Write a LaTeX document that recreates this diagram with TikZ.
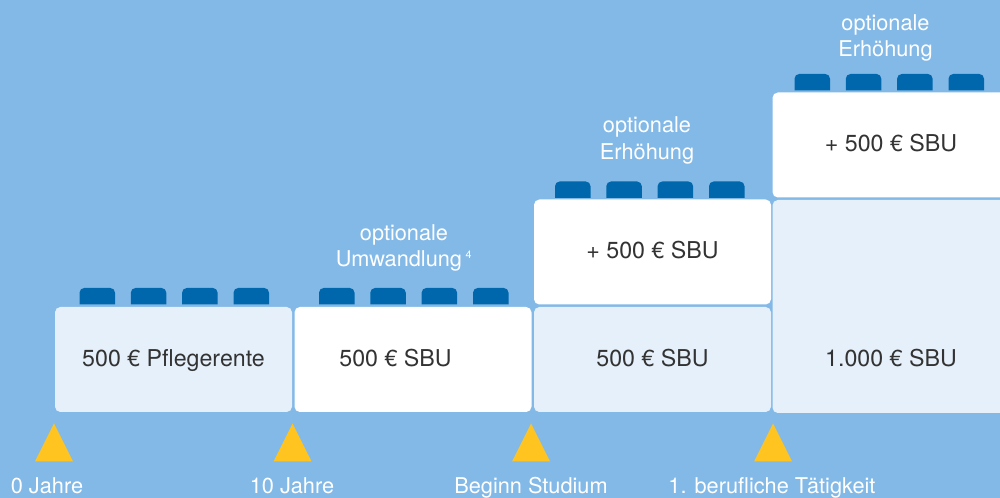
\documentclass[tikz,border=0pt]{standalone}
\usepackage{fontspec}
\setmainfont{TeX Gyre Heros}
\definecolor{skyblue}{HTML}{83B9E7}
\definecolor{paleblue}{HTML}{E5F0FA}
\definecolor{studblue}{HTML}{0067AC}
\definecolor{markyellow}{HTML}{FFC41F}
\definecolor{darktext}{HTML}{333333}
\newcommand{\studrow}[1]{%
	\foreach \s in {0,51.3,102.6,154} {
		\fill [studblue, xshift=(#1+\s)*0.75pt] (0,16.5) [rounded corners=3.5pt] -- (0,0) -- (35.5,0) [sharp corners] -- (35.5,16.5) -- cycle;
	}
}
\tikzset{
	blocktext/.style={text=darktext, inner sep=0pt, text height=12.5pt, text depth=2pt, font=\fontsize{17.4}{20}\selectfont},
	block/.style={blocktext, rounded corners=4pt, minimum width=177.75pt, minimum height=78.75pt},
	paleblock/.style={block, fill=paleblue},
	whiteblock/.style={block, fill=white},
	note/.style={text=white, align=center, inner sep=0pt, font=\fontsize{16.3}{19.8}\selectfont},
	baselabel/.style={note, text height=11.8pt, text depth=0pt},
	marker/.style={fill=markyellow},
}

\begin{document}
\begin{tikzpicture}[x=0.75pt, y=-0.75pt]
	\useasboundingbox (0,0) rectangle (1000,498);
	\clip (0,0) rectangle (1000,498);
	\fill [skyblue] (0,0) rectangle (1000,498);
	%
	\node [paleblock] (pflege) at (173.5,359.5) {500 € Pflegerente};
	\node [whiteblock] (wandel) at (413,359.5) {};
	\node [blocktext] (wandeltext) at (395.5,359.5) {500 € SBU};
	\node [paleblock] (studium) at (652.5,359.5) {500 € SBU};
	\node [whiteblock] (studiumplus) at (652.5,252) {+ 500 € SBU};
	\node [paleblock, minimum height=159.75pt] (beruf) at (891,306.5) {};
	\node [blocktext] (berufbase) at (891,359.5) {1.000 € SBU};
	\node [whiteblock] (berufplus) at (891,145) {+ 500 € SBU};
	%
	\begin{scope}[yshift=-288*0.75pt]
		\studrow{79.5}
		\studrow{319}
	\end{scope}
	\begin{scope}[yshift=-181.5*0.75pt]
		\studrow{555}
	\end{scope}
	\begin{scope}[yshift=-74*0.75pt]
		\studrow{794.5}
	\end{scope}
	%
	\node [note] (optwandel) at (404,248) {optionale\\Umwandlung\,\textsuperscript{\footnotesize 4}};
	\node [note] (opterste) at (647,140.5) {optionale\\Erhöhung};
	\node [note] (optzweite) at (885.5,38) {optionale\\Erhöhung};
	%
	\foreach \x in {54,292.5,531,773} {
		\fill [marker] (\x-19,461.5) -- (\x,423.5) -- (\x+19,461.5) -- cycle;
	}
	\node [baselabel] (nulljahre) at (47,485.5) {0 Jahre};
	\node [baselabel] (zehnjahre) at (292,485.5) {10 Jahre};
	\node [baselabel] (beginn) at (531,485.5) {Beginn Studium};
	\node [baselabel] (taetigkeit) at (772,485.5) {1. berufliche Tätigkeit};
\end{tikzpicture}
\end{document}
